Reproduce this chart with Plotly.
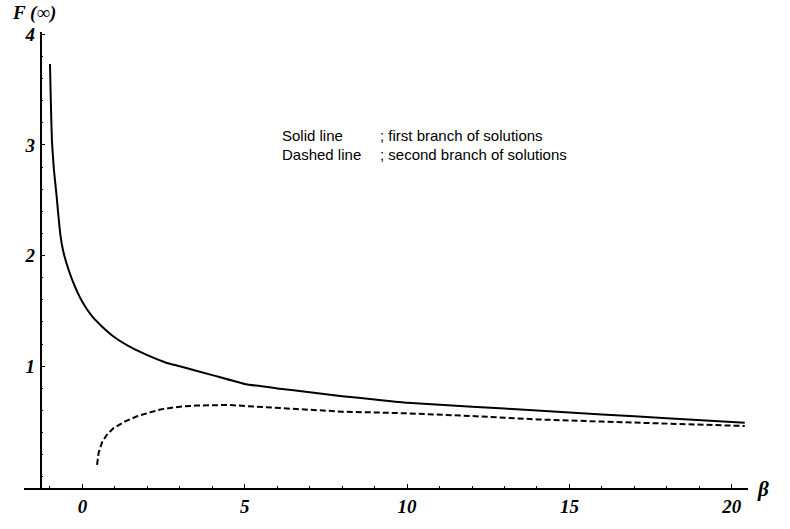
import plotly.graph_objects as go

# First branch of solutions (solid)
beta_first = [-1.0, -0.97, -0.94, -0.88, -0.8, -0.74, -0.68, -0.6, -0.5, -0.3, 0.0,
              0.3, 0.6, 1.0, 1.5, 2.0, 2.6, 3.0, 4.0, 5.0, 6.0, 7.0, 8.0, 9.0, 10.0,
              12.0, 14.0, 16.0, 18.0, 20.4]
f_first = [3.73, 3.35, 3.04, 2.78, 2.55, 2.36, 2.19, 2.05, 1.94, 1.77, 1.58,
           1.45, 1.36, 1.26, 1.17, 1.10, 1.03, 1.00, 0.92, 0.84, 0.80, 0.765, 0.73,
           0.70, 0.67, 0.635, 0.60, 0.565, 0.53, 0.49]

# Second branch of solutions (dashed)
beta_second = [0.45, 0.5, 0.6, 0.75, 0.95, 1.3, 1.7, 2.4, 3.0, 3.5, 4.5, 5.5, 6.5,
               8.0, 10.0, 12.0, 14.0, 16.0, 18.0, 20.4]
f_second = [0.11, 0.22, 0.31, 0.38, 0.44, 0.50, 0.55, 0.61, 0.635, 0.645, 0.65, 0.635,
            0.615, 0.59, 0.575, 0.55, 0.52, 0.50, 0.48, 0.46]

x_ticks = [0, 5, 10, 15, 20]
y_ticks = [1, 2, 3, 4]

W, H = 790, 529
ML, MR, MT, MB = 24, 42, 32, 30
X_RANGE = [-1.8, 20.5]
Y_RANGE = [-0.1, 4.02]
Y_AXIS_AT = -1.29


def px_to_paper(px, py):
    return (px - ML) / (W - ML - MR), (H - MB - py) / (H - MT - MB)


tick_font = dict(family="Liberation Serif", size=19, color="black",
                 weight="bold", style="italic")
note_font = dict(family="Liberation Sans", size=15, color="black")

fig = go.Figure()
fig.add_trace(go.Scatter(x=beta_first, y=f_first, mode="lines",
                         line=dict(color="black", width=2, shape="spline",
                                   smoothing=0.4),
                         showlegend=False))
fig.add_trace(go.Scatter(x=beta_second, y=f_second, mode="lines",
                         line=dict(color="black", width=2, dash="6px,3px"),
                         showlegend=False))

yaxis_pos = (Y_AXIS_AT - X_RANGE[0]) / (X_RANGE[1] - X_RANGE[0])

fig.update_layout(
    width=W, height=H,
    margin=dict(l=ML, r=MR, t=MT, b=MB, pad=0),
    paper_bgcolor="white", plot_bgcolor="white",
    xaxis=dict(range=X_RANGE, domain=[0, 1], tickvals=x_ticks,
               ticks="inside", ticklen=4, tickwidth=1.2, tickcolor="black",
               minor=dict(dtick=1, tick0=0, ticks="inside", ticklen=2,
                          tickcolor="black", tickwidth=1),
               showline=True, linecolor="black", linewidth=1.6,
               showgrid=False, zeroline=False, tickfont=tick_font),
    yaxis=dict(range=Y_RANGE, anchor="free", position=yaxis_pos,
               tickvals=y_ticks, ticks="inside", ticklen=4, tickwidth=1.2,
               tickcolor="black",
               minor=dict(dtick=0.2, tick0=0, ticks="inside", ticklen=2,
                          tickcolor="black", tickwidth=1),
               showline=True, linecolor="black", linewidth=1.6,
               showgrid=False, zeroline=False, tickfont=tick_font,
               ticklabelstandoff=1),
)

annotations = []
# axis titles
ax, ay = px_to_paper(10, 13)
annotations.append(dict(text="F (∞)", x=ax, y=ay, xref="paper", yref="paper",
                        xanchor="left", yanchor="middle", showarrow=False,
                        font=tick_font))
bx, by = px_to_paper(755, 500)
annotations.append(dict(text="β", x=bx, y=by, xref="paper", yref="paper",
                        xanchor="left", yanchor="middle", showarrow=False,
                        font=dict(tick_font, size=21)))

# key text
key_rows = [("Solid line", "; first branch of solutions", 138),
            ("Dashed line", "; second branch of solutions", 157)]
for name, desc, py in key_rows:
    x1, y1 = px_to_paper(280, py)
    x2, _ = px_to_paper(378, py)
    annotations.append(dict(text=name, x=x1, y=y1, xref="paper", yref="paper",
                            xanchor="left", yanchor="middle", showarrow=False,
                            font=note_font))
    annotations.append(dict(text=desc, x=x2, y=y1, xref="paper", yref="paper",
                            xanchor="left", yanchor="middle", showarrow=False,
                            font=note_font))

fig.update_layout(annotations=annotations)

fig.write_html("out.html")
